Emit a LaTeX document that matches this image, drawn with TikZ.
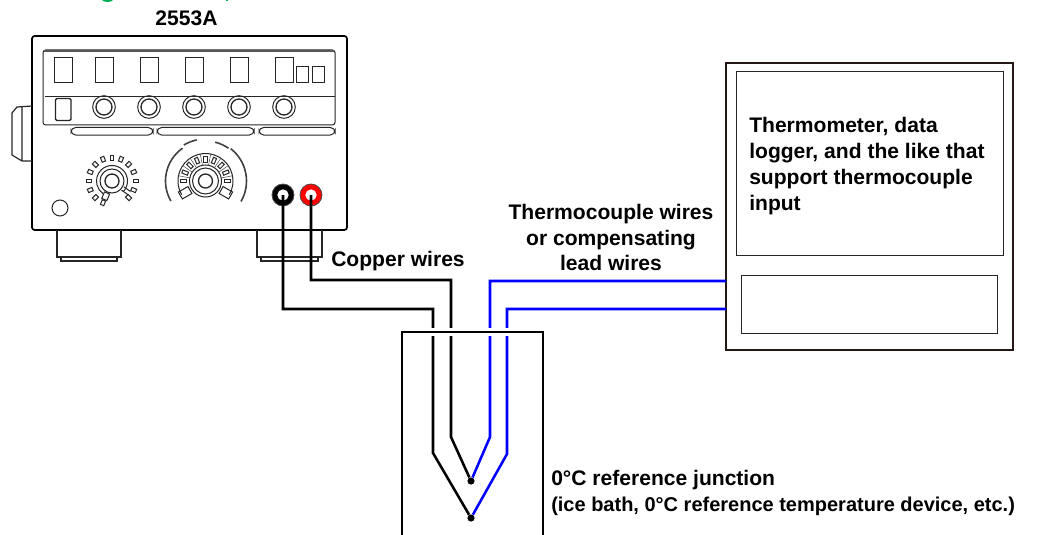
\documentclass[tikz,border=0pt]{standalone}
\usepackage{fontspec}
\setmainfont{Liberation Sans}
\definecolor{headgreen}{HTML}{00B050}
\definecolor{framedark}{HTML}{231815}
\begin{document}
\begin{tikzpicture}[x=.75pt,y=.75pt]
                \useasboundingbox (0,0) rectangle (1050,-535);
                \tikzstyle{thin line}=[line width=.75pt,draw=black!85]
                \tikzstyle{body line}=[line width=1.3pt,draw=black]
                \tikzstyle{wire}=[line width=1.9pt,draw=black,line join=miter]
                \tikzstyle{tcwire}=[wire,draw=blue]
                \tikzstyle{junction}=[circle,fill=black,inner sep=0pt,minimum size=5.4pt]
                \tikzstyle{label}=[font=\bfseries\fontsize{15.8}{19.3}\selectfont,inner sep=0pt]
                \newcommand\digit[5]{\node[thin line,draw,inner sep=0pt,minimum width=#3*.75pt,minimum height=#4*.75pt] at (#1,-#2) (#5) {};}
                \newcommand\knob[3]{\node[circle,thin line,draw,inner sep=0pt,minimum size=17pt] at (#1,-#2) (#3) {};%
                \node[circle,thin line,draw,line width=1pt,inner sep=0pt,minimum size=12pt] at (#1,-#2) {};}
                \newcommand\jack[4]{\node[circle,draw=black!70,fill=#4,line width=.6pt,inner sep=0pt,minimum size=16.5pt] at (#1,-#2) (#3) {};%
                \node[circle,fill=white,inner sep=0pt,minimum size=8.5pt] at (#1,-#2) {};}
                \fill[headgreen] (102,0) .. controls (103,-2.6) and (112,-2.6) .. (113,0) -- cycle;
                \fill[headgreen] (225.5,0) rectangle (228,-1.5);
                \node[label] at (186.5,-18) (model) {2553A};
                \draw[body line,rounded corners=2pt] (32,-36) rectangle (347,-230);
                \draw[thin line,rounded corners=2pt] (43,-50) rectangle (335,-125);
                \draw[line width=1.2pt,black!65] (44,-51.2) -- (334,-51.2);
                \draw[thin line] (45,-96.5) -- (335,-96.5);
                \digit{63}{70.5}{18}{25}{d1}
                \digit{104}{70.5}{18}{25}{d2}
                \digit{149}{70.5}{18}{25}{d3}
                \digit{194}{70.5}{18}{25}{d4}
                \digit{239}{70.5}{18}{25}{d5}
                \digit{284}{70.5}{18}{25}{d6}
                \digit{302}{75}{12}{16}{d7}
                \digit{318}{75}{12}{16}{d8}
                \draw[thin line,line width=1.1pt,rounded corners=1pt] (55.5,-98.5) rectangle (71,-120.5);
                \knob{104}{107}{k1}
                \knob{149}{107}{k2}
                \knob{194}{107}{k3}
                \knob{239}{107}{k4}
                \knob{284}{107}{k5}
                \draw[thin line,rounded corners=3.5pt] (71,-127.5) rectangle (153,-135);
                \draw[thin line,rounded corners=3.5pt] (157,-127.5) rectangle (254,-135);
                \draw[thin line,rounded corners=3.5pt] (259,-127.5) rectangle (335,-135);
                \draw[thin line,line width=.9pt] (32,-106) -- (17,-107) -- (12,-113) -- (12,-155) -- (22,-161) -- (32,-161) (22,-107) -- (22,-161);
                \draw[thin line] (60,-208) circle (8);
                \begin{scope}[shift={(112,-181)}]
                \draw[thin line] (0,0) circle (12);
                \draw[thin line,line width=1pt] (0,0) circle (7);
                \draw[thin line] (-45:15.5) arc[start angle=-45,end angle=235,radius=15.5];
                \foreach \a in {-45,-22.5,0,22.5,45,67.5,90,112.5,135,157.5,180,202.5,225,247.5}
                \draw[thin line,rotate=\a] (21,-1.8) rectangle (26,1.8);
                \draw[thin line,rotate=247.5] (13,-2.8) rectangle (20,2.8);
                \draw[thin line,rotate=-35] (13,-2) -- (21,-2) (13,2) -- (21,2);
                \end{scope}
                \begin{scope}[shift={(205.5,-181)}]
                \draw[thin line] (0,0) circle (13) (0,0) circle (16);
                \draw[thin line,line width=1pt] (0,0) circle (7);
                \draw[thin line] (-30:27.5) arc[start angle=-30,end angle=210,radius=27.5];
                \foreach \a in {0,22.5,45,67.5,90,112.5,135,157.5,180}
                \draw[thin line,rotate=\a] (19,-1.6) rectangle (25,1.6);
                \foreach \a in {11,34,56,79,101,124,146,169}
                \draw[line width=.4pt,black!70,rotate=\a] (16,0) -- (27.5,0);
                \draw[thin line,rotate=-30] (18,-4) rectangle (29,4);
                \draw[thin line,rotate=210] (18,-4) rectangle (29,4);
                \draw[line width=1.2pt,black!75] (210:40) arc[start angle=210,end angle=125,radius=40];
                \draw[line width=1.2pt,black!75] (121:42) arc[start angle=121,end angle=102,radius=42];
                \draw[line width=1.2pt,black!75] (76:40) arc[start angle=76,end angle=55,radius=40];
                \draw[line width=1.2pt,black!75] (52:41) arc[start angle=52,end angle=-30,radius=41];
                \end{scope}
                \draw[thin line,line width=.9pt] (57,-230) -- (57,-257) -- (121,-257) -- (121,-230) (61,-257) -- (61,-261) -- (117,-261) -- (117,-257);
                \draw[thin line,line width=.9pt] (257,-230) -- (257,-257) -- (322,-257) -- (322,-230) (261,-257) -- (261,-261) -- (318,-261) -- (318,-257);
                \jack{283}{195}{jackblack}{black}
                \jack{311}{195}{jackred}{red}
                \node[draw=framedark,line width=1.5pt,inner sep=0pt,minimum width=215pt,minimum height=215.25pt] at (869.5,-206.5) (meter) {};
                \node[thin line,draw,inner sep=0pt,minimum width=200.25pt,minimum height=137.25pt] at (869.5,-163.5) (screen) {};
                \node[thin line,draw,inner sep=0pt,minimum width=192pt,minimum height=43.5pt] at (869,-304) (strip) {};
                \coordinate (meterinA) at (726,-281);
                \coordinate (meterinB) at (726,-309);
                \node[junction] at (471,-481) (juncA) {};
                \node[junction] at (471,-518) (juncB) {};
                \draw[wire] (jackred.center) |- (451,-280) -- (451,-437) -- (juncA);
                \draw[wire] (jackblack.center) |- (433,-309) -- (433,-453) -- (juncB);
                \draw[tcwire] (meterinA) -| (490,-437) -- (juncA);
                \draw[tcwire] (meterinB) -| (507,-454) -- (juncB);
                \draw[white,line width=5.6pt] (402,-332) -- (543,-332);
                \draw[wire,line cap=rect] (402,-535) -- (402,-332) -- (543,-332) -- (543,-535);
                \node[label,anchor=base west] at (331,-266) (copper) {Copper wires};
                \node[label,align=center] at (611,-237.5) (tclabel) {Thermocouple wires\\or compensating\\lead wires};
                \node[label,align=left,anchor=west] at (749,-166) (meterlabel) {Thermometer, data\\logger, and the like that\\support thermocouple\\input};
                \node[label,align=left,anchor=west,font=\bfseries\fontsize{15}{20}\selectfont] at (551,-493) (junclabel) {\fontsize{15.8}{20}\selectfont 0°C reference junction\\(ice bath, 0°C reference temperature device, etc.)};
\end{tikzpicture}
\end{document}
